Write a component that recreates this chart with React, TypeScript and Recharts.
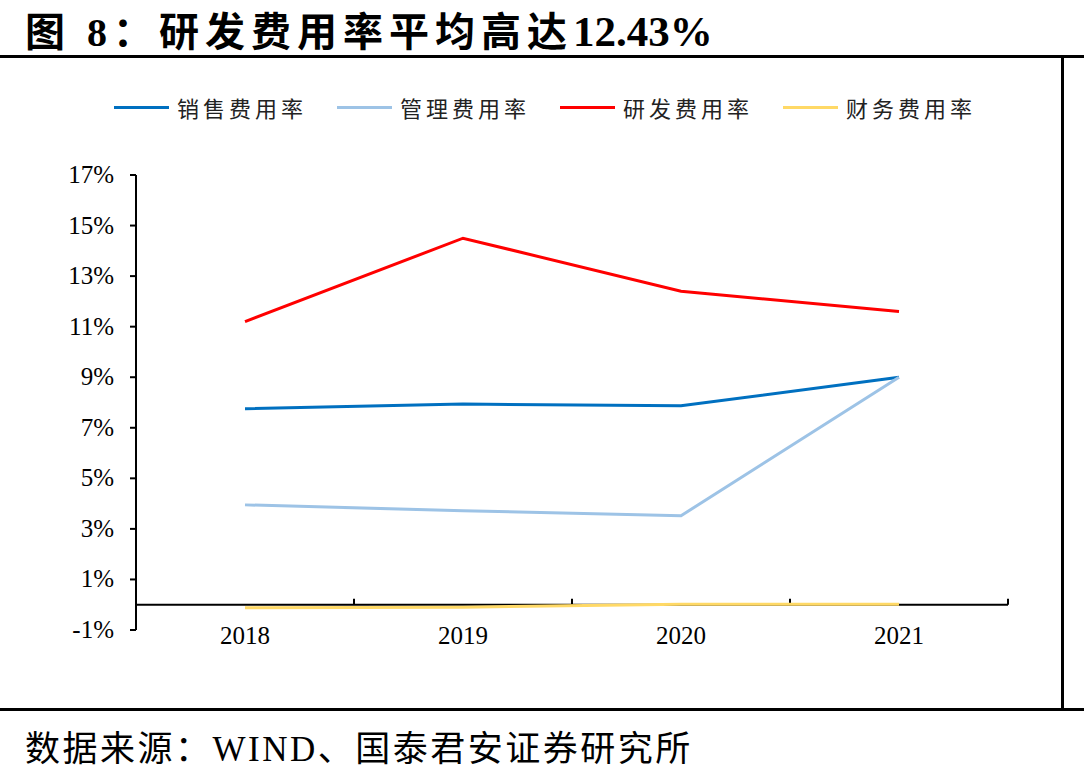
import { LineChart, Line, XAxis, YAxis, ReferenceLine } from 'recharts';

const years = ['2018', '2019', '2020', '2021'];
const salesRate = [7.75, 7.94, 7.87, 9.0];
const adminRate = [3.95, 3.72, 3.52, 9.0];
const rndRate = [11.2, 14.5, 12.4, 11.6];
const financeRate = [-0.12, -0.1, 0.02, 0.02];
const yTicks = [-1, 1, 3, 5, 7, 9, 11, 13, 15, 17];

const series = [
  { key: 'sales', name: '销售费用率', color: '#0070C0', values: salesRate },
  { key: 'admin', name: '管理费用率', color: '#9DC3E6', values: adminRate },
  { key: 'rnd', name: '研发费用率', color: '#FF0000', values: rndRate },
  { key: 'finance', name: '财务费用率', color: '#FFD966', values: financeRate },
];

// years sit at band centres (0.5, 1.5, ...) so the boundaries can carry tick marks
const data = years.map((year, i) => {
  const row: Record<string, any> = { x: i + 0.5, year };
  series.forEach((s) => { row[s.key] = s.values[i]; });
  return row;
});
const boundaries = [1, 2, 3, 4];

const serif = '"Liberation Serif", "Times New Roman", "Noto Sans CJK SC", serif';
const cjk = '"Liberation Serif", "Noto Sans CJK SC", serif';

const YTick = ({ x, y, payload }: any) => (
  <text x={x} y={y} dy={8} textAnchor="end" fontFamily={serif} fontSize={25} fill="#000">
    {`${payload.value}%`}
  </text>
);

const XTick = ({ x, y, payload }: any) => (
  <text x={x} y={y} dy={14} textAnchor="middle" fontFamily={serif} fontSize={25} fill="#000">
    {years[Math.floor(payload.value)]}
  </text>
);

export default function App() {
  return (
    <div style={{ position: 'absolute', left: 0, top: 0, width: 1084, height: 778, background: '#fff', overflow: 'hidden' }}>
      <div style={{ position: 'absolute', left: 25, top: 0, fontFamily: cjk, fontWeight: 'bold', fontSize: 40, whiteSpace: 'nowrap' }}>
        <span style={{ letterSpacing: 6 }}>图 8：研发费用率平均高达</span>
        <span style={{ fontSize: 43 }}>12.43%</span>
      </div>
      <div style={{ position: 'absolute', left: 0, top: 55, width: 1084, height: 3, background: '#000' }} />
      <div style={{ position: 'absolute', left: 1061, top: 55, width: 3, height: 656, background: '#000' }} />
      <div style={{ position: 'absolute', left: 0, top: 708, width: 1084, height: 3, background: '#000' }} />

      {series.map((s, i) => (
        <div key={s.key} style={{ position: 'absolute', left: 114 + i * 223, top: 91, display: 'flex', alignItems: 'center', whiteSpace: 'nowrap' }}>
          <span style={{ display: 'inline-block', width: 55, height: 3, background: s.color, marginRight: 8 }} />
          <span style={{ fontFamily: cjk, fontSize: 22, letterSpacing: 4, color: '#222' }}>{s.name}</span>
        </div>
      ))}

      <div style={{ position: 'absolute', left: 0, top: 0 }}>
        <LineChart width={1084} height={778} data={data} margin={{ top: 175, right: 76, bottom: 118, left: 36 }}>
          <XAxis
            type="number"
            dataKey="x"
            domain={[0, 4]}
            ticks={[0.5, 1.5, 2.5, 3.5]}
            axisLine={false}
            tickLine={false}
            tickSize={0}
            tickMargin={0}
            height={30}
            tick={<XTick />}
          />
          <YAxis
            domain={[-1, 17]}
            ticks={yTicks}
            width={100}
            interval={0}
            axisLine={{ stroke: '#000', strokeWidth: 2 }}
            tickLine={{ stroke: '#000', strokeWidth: 2 }}
            tickSize={6}
            tickMargin={16}
            tick={<YTick />}
          />
          <ReferenceLine y={0} stroke="#000" strokeWidth={2} />
          {boundaries.map((b) => (
            <ReferenceLine key={b} segment={[{ x: b, y: 0 }, { x: b, y: 0.24 }]} stroke="#000" strokeWidth={2} />
          ))}
          {series.map((s) => (
            <Line
              key={s.key}
              type="linear"
              dataKey={s.key}
              name={s.name}
              stroke={s.color}
              strokeWidth={3}
              dot={false}
              isAnimationActive={false}
            />
          ))}
        </LineChart>
      </div>

      <div style={{ position: 'absolute', left: 25, top: 720, fontFamily: cjk, fontSize: 35, letterSpacing: 2.5, whiteSpace: 'nowrap' }}>
        数据来源：WIND、国泰君安证券研究所
      </div>
    </div>
  );
}
